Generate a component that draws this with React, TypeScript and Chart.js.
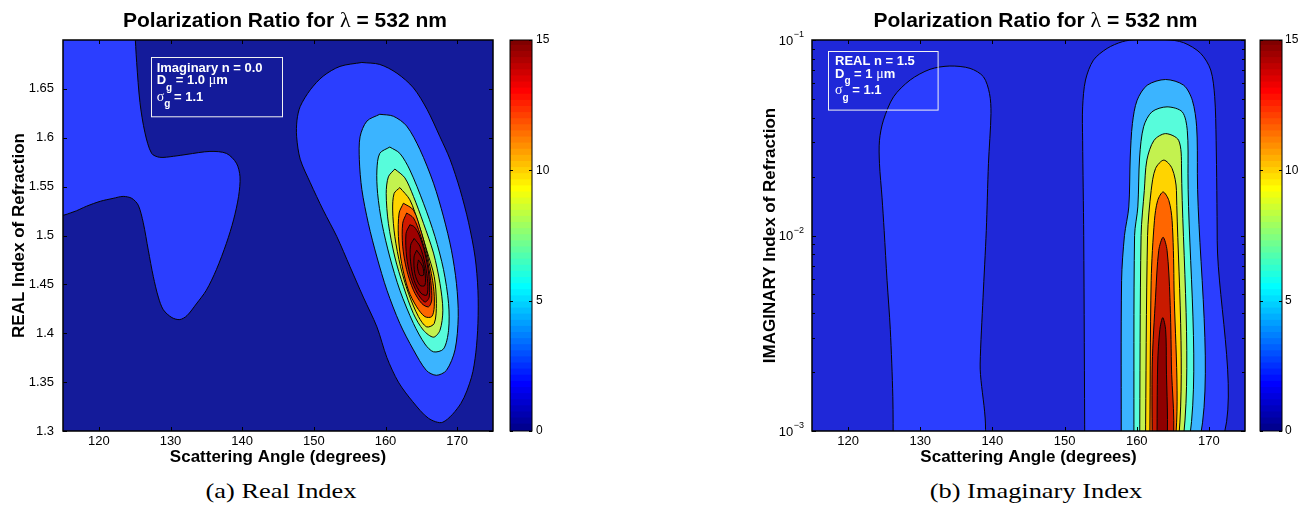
import React, { useEffect, useRef } from 'react';
import { Chart, registerables } from 'chart.js';

Chart.register(...registerables);

const SANS = "'Liberation Sans', Arial, Helvetica, sans-serif";
const SERIF = "'Liberation Serif', 'Times New Roman', serif";
Chart.defaults.font.family = SANS;
Chart.defaults.color = '#000';

// Axis limits
const angleMin = 115;
const angleMax = 175;
const realMin = 1.3;
const realMax = 1.7;
const imagMin = 0.001;
const imagMax = 0.1;
const ratioMin = 0;
const ratioMax = 15;

// Tick values
const angleTicks = [120, 130, 140, 150, 160, 170];
const realTicks = [1.3, 1.35, 1.4, 1.45, 1.5, 1.55, 1.6, 1.65];
const imagTicks = [0.001, 0.01, 0.1];
const imagMinorTicks = [0.002, 0.003, 0.004, 0.005, 0.006, 0.007, 0.008, 0.009, 0.02, 0.03, 0.04, 0.05, 0.06, 0.07, 0.08, 0.09];
const ratioTicks = [0, 5, 10, 15];

// (a) Real index: contour rings as [scattering angle (deg), real index]
const realLobeWest = [
  [125.02, 1.71], [125.28, 1.677], [125.74, 1.636], [126.44, 1.605], [127.37, 1.584], [128.5, 1.58],
  [130.4, 1.581], [132.3, 1.583], [135.5, 1.586], [137.8, 1.584], [139.2, 1.574], [139.7, 1.56],
  [139.5, 1.54], [138.8, 1.516], [137.8, 1.492], [136.4, 1.465], [135.0, 1.444], [133.6, 1.43],
  [132.3, 1.418], [131.3, 1.414], [130.2, 1.416], [129.0, 1.424], [128.3, 1.437], [127.6, 1.458],
  [126.9, 1.485], [126.2, 1.513], [125.5, 1.531], [124.6, 1.538], [123.4, 1.54], [122.0, 1.538],
  [120.2, 1.535], [118.3, 1.53], [116.4, 1.524], [114.5, 1.522], [114.5, 1.71],
];
const realLobeEast = [
  [156.7, 1.677], [159.2, 1.675], [161.6, 1.666], [163.9, 1.651], [165.8, 1.629], [167.6, 1.601],
  [169.0, 1.578], [170.4, 1.547], [171.6, 1.513], [172.5, 1.478], [172.9, 1.444], [172.9, 1.41],
  [172.6, 1.38], [172.0, 1.355], [170.5, 1.328], [168.0, 1.309], [166.0, 1.313], [163.8, 1.33],
  [161.8, 1.35], [160.2, 1.375], [158.8, 1.4065], [156.9, 1.437], [155.05, 1.468], [153.2, 1.499],
  [151.3, 1.526], [149.5, 1.554], [148.1, 1.578], [147.6, 1.601], [147.65, 1.618], [148.1, 1.632],
  [149.5, 1.649], [151.3, 1.663], [153.65, 1.673],
];
const realRing2 = [
  [159.2, 1.624], [161.1, 1.622], [162.95, 1.612], [164.8, 1.588], [166.7, 1.5535], [168.1, 1.519],
  [169.2, 1.485], [169.9, 1.451], [170.15, 1.417], [169.7, 1.383], [168.5, 1.362], [167.1, 1.357],
  [165.7, 1.362], [163.9, 1.383], [162.0, 1.41], [160.2, 1.444], [158.8, 1.478], [157.6, 1.5125],
  [156.7, 1.547], [156.35, 1.5775], [156.45, 1.601], [157.4, 1.617],
];
const realRing3 = [
  [160.6, 1.5905], [162.0, 1.584], [163.4, 1.567], [165.3, 1.533], [166.9, 1.499], [168.1, 1.465],
  [168.8, 1.4305], [168.8, 1.403], [168.1, 1.384], [166.7, 1.381], [165.5, 1.389], [163.9, 1.41],
  [162.0, 1.444], [160.6, 1.478], [159.5, 1.5125], [158.9, 1.543], [158.8, 1.567], [159.2, 1.584],
];
const realRing4 = [
  [161.3, 1.568], [162.7, 1.559], [163.9, 1.54], [165.3, 1.5125], [166.7, 1.482], [167.6, 1.451],
  [168.0, 1.4236], [167.6, 1.403], [166.7, 1.396], [165.3, 1.403], [163.9, 1.42], [162.5, 1.448],
  [161.3, 1.478], [160.4, 1.5125], [160.1, 1.543], [160.4, 1.56],
];
const realRing5 = [
  [162.0, 1.549], [163.4, 1.5365], [164.6, 1.5125], [165.75, 1.485], [166.8, 1.458], [167.1, 1.4305],
  [166.8, 1.41], [165.75, 1.4065], [164.6, 1.417], [163.2, 1.441], [162.1, 1.468], [161.3, 1.499],
  [161.0, 1.526], [161.2, 1.543],
];
const realRing6 = [
  [162.5, 1.533], [163.9, 1.526], [165.05, 1.502], [166.0, 1.475], [166.7, 1.4475], [166.8, 1.427],
  [166.45, 1.417], [165.5, 1.417], [164.35, 1.427], [163.2, 1.444], [162.25, 1.4715], [161.8, 1.499],
  [161.9, 1.523],
];
const realRing7 = [
  [162.95, 1.523], [163.9, 1.518], [164.8, 1.502], [165.75, 1.478], [166.3, 1.454], [166.45, 1.434],
  [166.0, 1.427], [165.05, 1.4305], [163.9, 1.444], [162.95, 1.465], [162.4, 1.489], [162.4, 1.5125],
];
const realRing8 = [
  [163.4, 1.511], [164.0, 1.509], [164.7, 1.5005], [165.5, 1.482], [166.07, 1.458], [166.1, 1.437],
  [165.5, 1.432], [164.45, 1.441], [163.5, 1.458], [162.95, 1.478], [162.86, 1.502],
];
const realRing9 = [
  [164.0, 1.497], [164.8, 1.489], [165.5, 1.4715], [165.9, 1.451], [165.75, 1.439], [164.95, 1.441],
  [164.0, 1.454], [163.5, 1.473], [163.5, 1.49],
];
const realRing10 = [
  [164.35, 1.485], [165.05, 1.477], [165.5, 1.463], [165.5, 1.449], [164.8, 1.449], [164.1, 1.461],
  [163.98, 1.478],
];
const realRing11 = [
  [164.6, 1.475], [165.2, 1.468], [165.3, 1.4595], [164.8, 1.4595], [164.45, 1.468],
];

// (b) Imaginary index: contour rings as [scattering angle (deg), imaginary index]
const imagLobeWest = [
  [126.25, 0.0008], [126.2, 0.0015], [125.85, 0.0033], [125.4, 0.0059], [125.0, 0.0106], [124.7, 0.0157],
  [124.35, 0.0233], [124.35, 0.0307], [124.9, 0.0389], [126.3, 0.0512], [128.6, 0.0624], [131.35, 0.0708],
  [134.1, 0.0736], [136.9, 0.0716], [138.75, 0.0649], [139.6, 0.0532], [139.8, 0.0421], [139.45, 0.0233],
  [139.15, 0.0106], [138.7, 0.0048], [138.3, 0.0022], [138.25, 0.0008],
];
const imagLobeEast = [
  [152.8, 0.0008], [152.65, 0.01], [152.5, 0.0307], [152.5, 0.0455], [152.9, 0.0624], [154.0, 0.0789],
  [155.9, 0.0906], [158.0, 0.098], [160.0, 0.1005], [164.0, 0.1005], [166.5, 0.0969], [168.85, 0.0855],
  [170.25, 0.0702], [170.8, 0.0513], [171.0, 0.0307], [171.15, 0.0094], [171.2, 0.0008],
];
const imagRing2 = [
  [157.85, 0.0008], [157.9, 0.0059], [158.3, 0.01], [158.9, 0.014], [159.1, 0.0252], [159.4, 0.0374],
  [160.05, 0.0492], [161.45, 0.0587], [164.0, 0.0628], [166.5, 0.0587], [167.7, 0.0492], [168.3, 0.036],
  [168.4, 0.0207], [168.4, 0.0008],
];
const imagRing3 = [
  [159.6, 0.0008], [159.7, 0.01], [160.15, 0.014], [160.4, 0.0252], [160.95, 0.036], [162.1, 0.0429],
  [164.2, 0.0455], [166.3, 0.0429], [167.0, 0.0345], [167.1, 0.0207], [167.05, 0.0008],
];
const imagRing4 = [
  [160.4, 0.0008], [160.6, 0.01], [161.05, 0.017], [161.4, 0.0243], [162.4, 0.0307], [164.0, 0.0332],
  [165.8, 0.0307], [166.2, 0.0224], [166.25, 0.0008],
];
const imagRing5 = [
  [161.2, 0.0008], [161.5, 0.01], [162.0, 0.017], [162.6, 0.022], [163.75, 0.0243], [164.9, 0.022],
  [165.5, 0.017], [165.65, 0.0008],
];
const imagRing6 = [
  [161.8, 0.0008], [162.0, 0.0059], [162.45, 0.0119], [162.9, 0.0151], [163.65, 0.0167], [164.45, 0.0151],
  [164.9, 0.0119], [165.15, 0.0059], [165.2, 0.0008],
];
const imagRing7 = [
  [162.15, 0.0008], [162.15, 0.0022], [162.6, 0.0048], [163.05, 0.0084], [163.65, 0.0098], [164.2, 0.0084],
  [164.6, 0.0048], [164.8, 0.0022], [164.85, 0.0008],
];
const imagRing8 = [
  [162.8, 0.0008], [162.9, 0.0022], [163.2, 0.0033], [163.6, 0.0038], [164.0, 0.0033], [164.1, 0.0022],
  [164.1, 0.0008],
];

// Filled contour bands, outermost first
const realBands = [
  { ring: realLobeWest, color: '#2b3eff' },
  { ring: realLobeEast, color: '#2b3eff' },
  { ring: realRing2, color: '#3bb4ff' },
  { ring: realRing3, color: '#57fcdb' },
  { ring: realRing4, color: '#c3f24f' },
  { ring: realRing5, color: '#ffd400' },
  { ring: realRing6, color: '#ff6600' },
  { ring: realRing7, color: '#cf1900' },
  { ring: realRing8, color: '#9e0000' },
  { ring: realRing9, color: '#900000' },
  { ring: realRing10, color: '#860000' },
  { ring: realRing11, color: '#7e0000' },
];
const imagBands = [
  { ring: imagLobeWest, color: '#2b3eff' },
  { ring: imagLobeEast, color: '#2b3eff' },
  { ring: imagRing2, color: '#3bb4ff' },
  { ring: imagRing3, color: '#57fcdb' },
  { ring: imagRing4, color: '#c3f24f' },
  { ring: imagRing5, color: '#ffd400' },
  { ring: imagRing6, color: '#ff6600' },
  { ring: imagRing7, color: '#c91a00' },
  { ring: imagRing8, color: '#8f0000' },
];

type Run = { t: string; greek?: boolean; sub?: boolean };

const realPanel = {
  bands: realBands,
  background: '#141b9a',
  yType: 'linear',
  yMin: realMin,
  yMax: realMax,
  yTicks: realTicks,
  yMinor: [] as number[],
  yTitle: 'REAL Index of Refraction',
  yTitleInset: 9.3,
  yAxisWidth: 63,
  padRight: 7,
  expLabels: false,
  note: {
    x: 87.7, y: 16.7, w: 131, h: 59.3, tx: 6,
    lines: [
      { dy: 11.6, runs: [{ t: 'Imaginary n = 0.0' }] as Run[] },
      { dy: 24.1, runs: [{ t: 'D' }, { t: 'g', sub: true }, { t: ' = 1.0 ' }, { t: 'μ', greek: true }, { t: 'm' }] as Run[] },
      { dy: 40.5, runs: [{ t: 'σ', greek: true }, { t: 'g', sub: true }, { t: ' = 1.1' }] as Run[] },
    ],
  },
};

const imagPanel = {
  bands: imagBands,
  background: '#1f28d8',
  yType: 'logarithmic',
  yMin: imagMin,
  yMax: imagMax,
  yTicks: imagTicks,
  yMinor: imagMinorTicks,
  yTitle: 'IMAGINARY Index of Refraction',
  yTitleInset: 19.8,
  yAxisWidth: 72,
  padRight: 5,
  expLabels: true,
  note: {
    x: 15.7, y: 10.7, w: 109.6, h: 58.6, tx: 7.3,
    lines: [
      { dy: 11, runs: [{ t: 'REAL n = 1.5' }] as Run[] },
      { dy: 23.5, runs: [{ t: 'D' }, { t: 'g', sub: true }, { t: ' = 1 ' }, { t: 'μ', greek: true }, { t: 'm' }] as Run[] },
      { dy: 40.1, runs: [{ t: 'σ', greek: true }, { t: 'g', sub: true }, { t: ' = 1.1' }] as Run[] },
    ],
  },
};

const titleRuns: Run[] = [{ t: 'Polarization Ratio for ' }, { t: 'λ', greek: true }, { t: ' = 532 nm' }];

// Draws a sequence of bold / greek / subscript runs, returns total advance
function drawRuns(ctx: CanvasRenderingContext2D, runs: Run[], x: number, y: number, size: number, draw = true) {
  let cx = x;
  for (const r of runs) {
    const fs = r.sub ? size - 3 : r.greek ? size + 1 : size;
    ctx.font = `${r.greek ? 'normal' : 'bold'} ${fs}px ${r.greek ? SERIF : SANS}`;
    if (draw) ctx.fillText(r.t, cx, r.sub ? y + 7 : y);
    cx += ctx.measureText(r.t).width;
  }
  return cx - x;
}

function panelDecor(p: any) {
  return {
    id: 'panelDecor',
    beforeDraw(chart: any) {
      const { ctx, chartArea: a } = chart;
      ctx.save();
      ctx.fillStyle = p.background;
      ctx.fillRect(a.left, a.top, a.right - a.left, a.bottom - a.top);
      ctx.restore();
    },
    afterDraw(chart: any) {
      const { ctx, chartArea: a, scales } = chart;
      const xs = scales.x;
      const ys = scales.y;
      ctx.save();

      // inward tick marks on all four sides
      ctx.strokeStyle = '#000';
      ctx.lineWidth = 1;
      ctx.beginPath();
      for (const v of angleTicks) {
        const px = Math.round(xs.getPixelForValue(v)) + 0.5;
        ctx.moveTo(px, a.bottom);
        ctx.lineTo(px, a.bottom - 4);
        ctx.moveTo(px, a.top);
        ctx.lineTo(px, a.top + 4);
      }
      for (const v of p.yTicks) {
        const py = Math.round(ys.getPixelForValue(v)) + 0.5;
        ctx.moveTo(a.left, py);
        ctx.lineTo(a.left + 4, py);
        ctx.moveTo(a.right, py);
        ctx.lineTo(a.right - 4, py);
      }
      for (const v of p.yMinor) {
        const py = Math.round(ys.getPixelForValue(v)) + 0.5;
        ctx.moveTo(a.left, py);
        ctx.lineTo(a.left + 3, py);
        ctx.moveTo(a.right, py);
        ctx.lineTo(a.right - 3, py);
      }
      ctx.stroke();

      // axes frame
      ctx.lineWidth = 1.5;
      ctx.strokeRect(a.left, a.top, a.right - a.left, a.bottom - a.top);

      // powers-of-ten tick labels
      if (p.expLabels) {
        ctx.fillStyle = '#000';
        ctx.textBaseline = 'middle';
        ctx.textAlign = 'right';
        for (const v of p.yTicks) {
          const py = ys.getPixelForValue(v);
          const exp = String(Math.round(Math.log10(v))).replace('-', '\u2212');
          ctx.font = `9px ${SANS}`;
          const supRight = a.left - 8;
          ctx.fillText(exp, supRight, py - 5);
          const sw = ctx.measureText(exp).width;
          ctx.font = `13px ${SANS}`;
          ctx.fillText('10', supRight - sw - 0.5, py + 1);
        }
      }

      // parameter note
      const n = p.note;
      ctx.strokeStyle = '#f2f2f2';
      ctx.lineWidth = 1;
      ctx.strokeRect(Math.round(a.left + n.x) + 0.5, Math.round(a.top + n.y) + 0.5, n.w, n.h);
      ctx.fillStyle = '#fff';
      ctx.textAlign = 'left';
      ctx.textBaseline = 'middle';
      for (const line of n.lines) {
        drawRuns(ctx, line.runs, a.left + n.x + n.tx, a.top + n.y + line.dy, 13);
      }

      // panel title
      ctx.fillStyle = '#000';
      const tw = drawRuns(ctx, titleRuns, 0, 0, 21, false);
      const cx = (a.left + a.right) / 2 + 7;
      drawRuns(ctx, titleRuns, cx - tw / 2, 21, 21);

      ctx.restore();
    },
  };
}

function buildPanel(canvas: HTMLCanvasElement, p: any) {
  const datasets = p.bands.map((b: any, i: number) => ({
    data: [...b.ring, b.ring[0]].map(([x, y]: number[]) => ({ x, y })),
    backgroundColor: b.color,
    borderColor: '#050505',
    borderWidth: 1,
    fill: 'shape',
    pointRadius: 0,
    pointHoverRadius: 0,
    tension: 0.3,
    capBezierPoints: false,
    order: p.bands.length - i,
  }));
  return new Chart(canvas, {
    type: 'line',
    data: { datasets },
    options: {
      responsive: false,
      animation: false,
      events: [],
      layout: { padding: { left: 0, top: 40, right: p.padRight, bottom: 0 } },
      plugins: { legend: { display: false }, tooltip: { enabled: false }, title: { display: false } },
      scales: {
        x: {
          type: 'linear',
          min: angleMin,
          max: angleMax,
          afterBuildTicks: (s: any) => { s.ticks = angleTicks.map((v) => ({ value: v })); },
          afterFit: (s: any) => { s.height = 39; },
          grid: { display: false, drawTicks: false },
          border: { display: false },
          ticks: { padding: 3, autoSkip: false, maxRotation: 0, font: { size: 13 }, color: '#000' },
          title: {
            display: true,
            text: 'Scattering Angle (degrees)',
            color: '#000',
            font: { size: 17, weight: 'bold' },
            padding: { top: 0, bottom: 2.8 },
          },
        },
        y: {
          type: p.yType,
          min: p.yMin,
          max: p.yMax,
          afterBuildTicks: (s: any) => { s.ticks = p.yTicks.map((v: number) => ({ value: v })); },
          afterFit: (s: any) => { s.width = p.yAxisWidth; },
          grid: { display: false, drawTicks: false },
          border: { display: false },
          ticks: {
            display: !p.expLabels,
            padding: 9,
            autoSkip: false,
            font: { size: 13 },
            color: '#000',
            callback: (v: any) => String(Math.round(Number(v) * 100) / 100),
          },
          title: {
            display: true,
            text: p.yTitle,
            color: '#000',
            font: { size: 17, weight: 'bold' },
            padding: { top: p.yTitleInset, bottom: 0 },
          },
        },
      },
    },
    plugins: [panelDecor(p)],
  } as any);
}

// MATLAB-style jet colour map with n steps
function jet(i: number, n: number) {
  const q = n / 4;
  const g0 = Math.ceil(q / 2) - (n % 4 === 1 ? 1 : 0);
  const u = (j: number) => {
    if (j < 1 || j > 3 * q - 1) return 0;
    if (j <= q) return j / q;
    if (j <= 2 * q - 1) return 1;
    return (3 * q - j) / q;
  };
  const k = i + 1;
  const c = [u(k - g0 - q), u(k - g0), u(k - g0 + q)].map((v) => Math.round(v * 255));
  return `rgb(${c[0]},${c[1]},${c[2]})`;
}

const jetSteps = 64;

const colorbarDecor = {
  id: 'colorbarDecor',
  afterDraw(chart: any) {
    const { ctx, chartArea: a, scales } = chart;
    ctx.save();
    ctx.strokeStyle = '#000';
    ctx.lineWidth = 1;
    ctx.beginPath();
    for (const v of ratioTicks) {
      const py = Math.round(scales.y.getPixelForValue(v)) + 0.5;
      ctx.moveTo(a.left, py);
      ctx.lineTo(a.left + 3, py);
      ctx.moveTo(a.right, py);
      ctx.lineTo(a.right - 3, py);
    }
    ctx.stroke();
    ctx.strokeRect(a.left, a.top, a.right - a.left, a.bottom - a.top);
    ctx.restore();
  },
};

function buildColorbar(canvas: HTMLCanvasElement, axisWidth: number, labelGap: number) {
  const step = (ratioMax - ratioMin) / jetSteps;
  const datasets = Array.from({ length: jetSteps }, (_, i) => ({
    data: [[ratioMin + i * step, ratioMin + (i + 1) * step + step * 0.15]],
    backgroundColor: jet(i, jetSteps),
    borderWidth: 0,
    barPercentage: 1,
    categoryPercentage: 1,
    grouped: false,
  }));
  return new Chart(canvas, {
    type: 'bar',
    data: { labels: [''], datasets },
    options: {
      responsive: false,
      animation: false,
      events: [],
      layout: { padding: { left: 10, top: 40, right: 0, bottom: 39 } },
      plugins: { legend: { display: false }, tooltip: { enabled: false } },
      scales: {
        x: { display: false },
        y: {
          position: 'right',
          min: ratioMin,
          max: ratioMax,
          afterBuildTicks: (s: any) => { s.ticks = ratioTicks.map((v) => ({ value: v })); },
          afterFit: (s: any) => { s.width = axisWidth; },
          grid: { display: false, drawTicks: false },
          border: { display: false },
          ticks: { padding: labelGap, font: { size: 12 }, color: '#000', autoSkip: false },
        },
      },
    },
    plugins: [colorbarDecor],
  } as any);
}

function ChartCanvas({ left, width, height, build }: { left: number; width: number; height: number; build: (c: HTMLCanvasElement) => Chart }) {
  const ref = useRef<HTMLCanvasElement>(null);
  useEffect(() => {
    const chart = build(ref.current as HTMLCanvasElement);
    return () => chart.destroy();
  }, []);
  return (
    <canvas
      ref={ref}
      width={width}
      height={height}
      style={{ position: 'absolute', left, top: 0, width, height }}
    />
  );
}

function Caption({ x, text }: { x: number; text: string }) {
  return (
    <div
      style={{
        position: 'absolute',
        left: x,
        top: 479,
        transform: 'translateX(-50%) scaleX(1.2)',
        font: `22px ${SERIF}`,
        lineHeight: '24px',
        whiteSpace: 'nowrap',
        color: '#000',
      }}
    >
      {text}
    </div>
  );
}

export default function App() {
  return (
    <div style={{ position: 'fixed', left: 0, top: 0, width: 1299, height: 505, background: '#fff', overflow: 'hidden' }}>
      <ChartCanvas left={0} width={500} height={470} build={(c) => buildPanel(c, realPanel)} />
      <ChartCanvas left={500} width={60} height={470} build={(c) => buildColorbar(c, 28, 4)} />
      <ChartCanvas left={740} width={510} height={470} build={(c) => buildPanel(c, imagPanel)} />
      <ChartCanvas left={1250} width={49} height={470} build={(c) => buildColorbar(c, 17, 3)} />
      <Caption x={281} text="(a) Real Index" />
      <Caption x={1036} text="(b) Imaginary Index" />
    </div>
  );
}
